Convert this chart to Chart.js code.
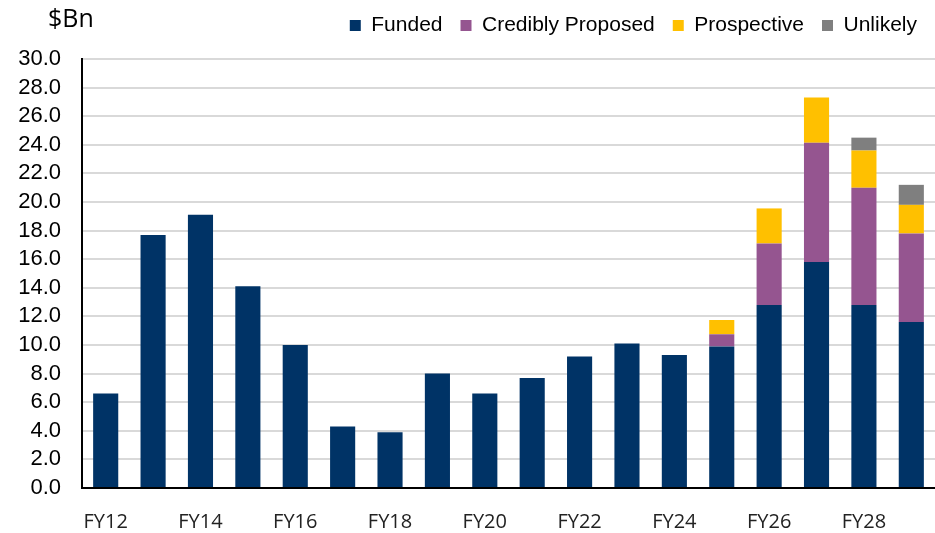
<!DOCTYPE html>
<html>
<head>
<meta charset="utf-8">
<script src="https://cdn.jsdelivr.net/npm/chart.js@4"></script>
<style>
  html, body { margin: 0; padding: 0; background: #fff; }
  #wrap { position: relative; width: 935px; height: 533px; }
  #unit {
    position: absolute; left: 48px; top: 2px;
    font: 25px "Open Sans", sans-serif; color: #000; line-height: 30px;
  }
</style>
</head>
<body>
<div id="wrap">
  <canvas id="fundingChart" width="935" height="533"></canvas>
  <div id="unit">$Bn</div>
</div>
<script>
// Data
const years = ["FY12", "FY13", "FY14", "FY15", "FY16", "FY17", "FY18", "FY19", "FY20",
  "FY21", "FY22", "FY23", "FY24", "FY25", "FY26", "FY27", "FY28", "FY29"];
const funded = [6.6, 17.7, 19.1, 14.1, 10.0, 4.3, 3.9, 8.0, 6.6,
  7.7, 9.2, 10.1, 9.3, 9.9, 12.8, 15.8, 12.8, 11.6];
const crediblyProposed = [0, 0, 0, 0, 0, 0, 0, 0, 0,
  0, 0, 0, 0, 0.85, 4.3, 8.35, 8.2, 6.2];
const prospective = [0, 0, 0, 0, 0, 0, 0, 0, 0,
  0, 0, 0, 0, 1.0, 2.45, 3.15, 2.6, 2.0];
const unlikely = [0, 0, 0, 0, 0, 0, 0, 0, 0,
  0, 0, 0, 0, 0, 0, 0, 0.9, 1.4];

// keep the legend box a fixed height so the plot starts where it should
const legendHeight = {
  id: "legendHeight",
  beforeInit(chart) {
    const fit = chart.legend.fit;
    chart.legend.fit = function () {
      fit.bind(chart.legend)();
      this.height = 62;
    };
  },
};

const ctx = document.getElementById("fundingChart").getContext("2d");
new Chart(ctx, {
  type: "bar",
  data: {
    labels: years,
    datasets: [
      { label: "Funded", data: funded, backgroundColor: "#003366" },
      { label: "Credibly Proposed", data: crediblyProposed, backgroundColor: "#955590" },
      { label: "Prospective", data: prospective, backgroundColor: "#FFC000" },
      { label: "Unlikely", data: unlikely, backgroundColor: "#7F7F7F" },
    ],
  },
  options: {
    responsive: false,
    animation: false,
    layout: { padding: { top: -3, right: 0, left: 0, bottom: 0 } },
    datasets: {
      bar: { categoryPercentage: 1, barPercentage: 0.53, borderWidth: 0 },
    },
    plugins: {
      legend: {
        position: "top",
        align: "end",
        labels: {
          boxWidth: 11,
          boxHeight: 11,
          padding: 18,
          color: "#000",
          font: { family: "Liberation Sans", size: 21 },
        },
      },
      tooltip: { enabled: false },
    },
    scales: {
      x: {
        stacked: true,
        afterFit(scale) {
          scale.height = 45;
        },
        grid: { display: false },
        border: { color: "#000", width: 2 },
        ticks: {
          autoSkip: false,
          maxRotation: 0,
          padding: 14,
          color: "#222",
          font: { family: "Open Sans", size: 20 },
          callback: function (value, index) {
            return index % 2 === 0 ? this.getLabelForValue(value) : "";
          },
        },
      },
      y: {
        stacked: true,
        min: 0,
        max: 30,
        afterFit(scale) {
          scale.width = 82;
        },
        grid: { color: "#d9d9d9", lineWidth: 2, drawTicks: false },
        border: { color: "#000", width: 2 },
        ticks: {
          autoSkip: false,
          stepSize: 2,
          padding: 21,
          color: "#000",
          font: { family: "Liberation Sans", size: 22 },
          callback: (v) => v.toFixed(1),
        },
      },
    },
  },
  plugins: [legendHeight],
});
</script>
</body>
</html>
